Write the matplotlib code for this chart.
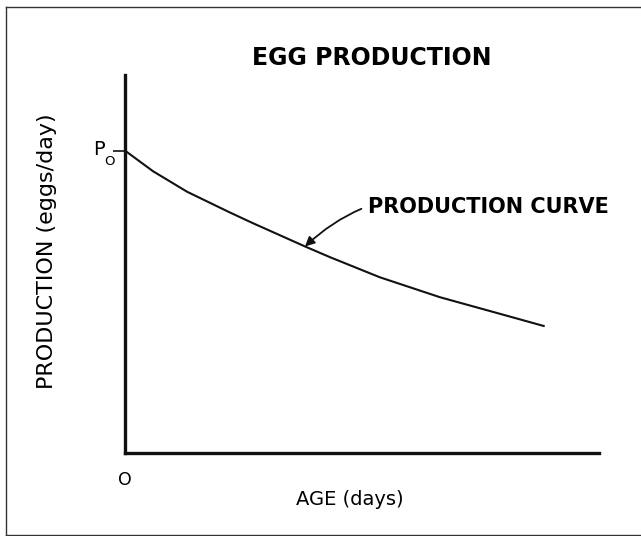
import matplotlib
matplotlib.use('Agg')
import matplotlib.pyplot as plt
from matplotlib.lines import Line2D

# production curve read along age axis (arbitrary units, P0 = 1)
age = [0, 0.59, 1.31, 2.22, 2.70, 3.80, 4.32, 5.38, 6.65, 7.85, 8.86]
production = [1.0, 0.932, 0.864, 0.795, 0.760, 0.683, 0.648, 0.581, 0.515, 0.463, 0.419]
p0 = 1.0
arrow_at = 5  # index of the point the label arrow points to

plt.rcParams['font.family'] = ['DejaVu Sans']

fig = plt.figure(figsize=(6.41, 5.36), dpi=100)
ax = fig.add_axes([0.195, 0.155, 0.739, 0.705])

ax.plot(age, production, color='#111111', lw=1.5, solid_capstyle='butt',
        solid_joinstyle='round')

ax.set_xlim(0, 10)
ax.set_ylim(0, 1.25)
for s in ['top', 'right']:
    ax.spines[s].set_visible(False)
for s in ['left', 'bottom']:
    ax.spines[s].set_linewidth(2.4)
    ax.spines[s].set_color('#111111')

ax.set_xticks([0])
ax.set_xticklabels(['O'], fontsize=12.5)
ax.tick_params(axis='x', length=0, pad=13)
ax.set_yticks([p0])
ax.set_yticklabels([''])
ax.tick_params(axis='y', length=9, width=1.2, color='#111111')
ax.text(-0.42, p0 + 0.005, 'P', fontsize=14, ha='right', va='center')
ax.text(-0.44, p0 - 0.035, 'O', fontsize=9.5, ha='left', va='center')

ax.set_title('EGG PRODUCTION', fontsize=17, fontweight='bold', x=0.521, pad=7)
ax.set_xlabel('AGE (days)', fontsize=14)
ax.xaxis.set_label_coords(0.475, -0.124)
ax.xaxis.label.set_va('center')
ax.set_ylabel('PRODUCTION (eggs/day)', fontsize=16)
ax.yaxis.set_label_coords(-0.165, 0.534)
ax.yaxis.label.set_va('center')

ax.annotate('PRODUCTION CURVE', xy=(age[arrow_at], production[arrow_at]),
            xytext=(5.13, 0.812), fontsize=15, fontweight='bold', va='center',
            arrowprops=dict(arrowstyle='-|>', color='#111111', lw=1.3,
                            connectionstyle='arc3,rad=0.3', shrinkA=3, shrinkB=0,
                            mutation_scale=14))

# frame round the figure (left, top, bottom)
for xs, ys in [([0.009, 0.009], [0.002, 0.987]),
               ([0.009, 1.0], [0.987, 0.987]),
               ([0.009, 1.0], [0.002, 0.002])]:
    fig.add_artist(Line2D(xs, ys, color='#333333', lw=1.0))

fig.savefig('out.png', dpi=100)
